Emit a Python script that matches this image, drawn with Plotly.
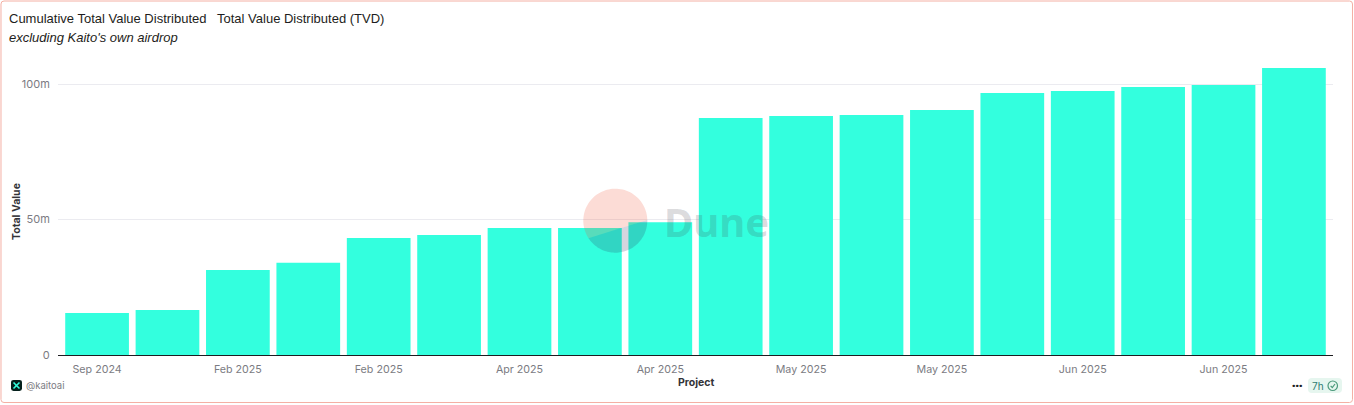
import numpy as np
import plotly.graph_objects as go

# ---- data ----
tick_labels = ["Sep 2024", "Feb 2025", "Feb 2025", "Apr 2025", "Apr 2025",
               "May 2025", "May 2025", "Jun 2025", "Jun 2025"]
total_value = [15.5, 16.6, 31.4, 34.0, 43.2, 44.3, 46.9, 46.9, 49.0,
               87.5, 88.2, 88.6, 90.4, 96.7, 97.4, 98.9, 99.6, 105.9]
y_ticks = [0, 50, 100]
y_tick_labels = ["0", "50m", "100m"]
title_left = "Cumulative Total Value Distributed"
title_right = "Total Value Distributed (TVD)"
subtitle = "excluding Kaito's own airdrop"

# ---- layout constants ----
W, H = 1354, 405
L, R, T, B = 58, 1333, 60, 355
BAR = "#33ffde"
TICK = "#7b7b82"
UI = "IBM Plex Sans, Inter, Noto Sans, sans-serif"
TF = "Inter, Noto Sans, sans-serif"
SANS = "Liberation Sans, Arial, sans-serif"


def px(x):
    return (x - L) / (R - L)


def py(y):
    return (B - y) / (B - T)


def poly(points):
    return "M " + " L ".join(f"{px(x):.5f},{py(y):.5f}" for x, y in points) + " Z"


def round_rect(x0, y0, x1, y1, r):
    k = [
        f"M {px(x0 + r):.5f},{py(y0):.5f}",
        f"L {px(x1 - r):.5f},{py(y0):.5f}",
        f"Q {px(x1):.5f},{py(y0):.5f} {px(x1):.5f},{py(y0 + r):.5f}",
        f"L {px(x1):.5f},{py(y1 - r):.5f}",
        f"Q {px(x1):.5f},{py(y1):.5f} {px(x1 - r):.5f},{py(y1):.5f}",
        f"L {px(x0 + r):.5f},{py(y1):.5f}",
        f"Q {px(x0):.5f},{py(y1):.5f} {px(x0):.5f},{py(y1 - r):.5f}",
        f"L {px(x0):.5f},{py(y0 + r):.5f}",
        f"Q {px(x0):.5f},{py(y0):.5f} {px(x0 + r):.5f},{py(y0):.5f}",
        "Z",
    ]
    return " ".join(k)


def shape_path(path, fill="rgba(0,0,0,0)", line=None, width=0, layer="above"):
    return dict(type="path", xref="paper", yref="paper", path=path, fillcolor=fill,
                line=dict(color=line or "rgba(0,0,0,0)", width=width), layer=layer)


def text(x, y, s, size=12, color="#1d1d20", family=UI, anchor="left", **kw):
    return dict(xref="paper", yref="paper", x=px(x), y=py(y), text=s, showarrow=False,
                xanchor=anchor, yanchor="middle", font=dict(size=size, color=color, family=family),
                **kw)


# watermark logo: a circle split by a diagonal
cx, cy, rad = 615.3, 220.7, 32
a0 = np.arctan2(238.3 - cy, 588.3 - cx)
a1 = np.arctan2(220.0 - cy, 647.0 - cx)
if a0 < 0:
    a0 += 2 * np.pi
lower = np.linspace(a0, a1, 60)
upper = np.linspace(a1, a0 - 2 * np.pi, 60)
chord = [(588.3, 238.3), (618, 229), (647.0, 220.0)]
lower_pts = [(cx + rad * np.cos(t), cy + rad * np.sin(t)) for t in lower] + chord[1:2]
upper_pts = [(cx + rad * np.cos(t), cy + rad * np.sin(t)) for t in upper] + chord[1:2]

shapes = [
    shape_path(round_rect(1, 1, 1352.5, 402.5, 3), line="#f4b0a4", width=1),
    shape_path(poly(upper_pts), fill="rgba(240,80,50,0.2)"),
    shape_path(poly(lower_pts), fill="rgba(43,45,90,0.2)"),
    shape_path(round_rect(1308, 378, 1342, 393, 4), fill="#e6f6ef"),
    dict(type="circle", xref="paper", yref="paper", x0=px(1328), x1=px(1337.5),
         y0=py(390.5), y1=py(381), line=dict(color="#4c9a7c", width=1.2),
         fillcolor="rgba(0,0,0,0)"),
    shape_path(f"M {px(1330.6):.5f},{py(385.8):.5f} L {px(1332.3):.5f},{py(387.5):.5f} "
               f"L {px(1335):.5f},{py(384):.5f}", line="#4c9a7c", width=1.2),
    shape_path(round_rect(11, 380, 22, 391, 2.5), fill="#04201c"),
    shape_path(f"M {px(13.5):.5f},{py(382.5):.5f} L {px(19.5):.5f},{py(388.5):.5f} "
               f"M {px(19.5):.5f},{py(382.5):.5f} L {px(13.5):.5f},{py(388.5):.5f}",
               line="#33ffde", width=1.6),
]

annotations = [
    text(7, 18.5, title_left, size=13, family=SANS),
    text(215, 18.5, title_right, size=13, family=SANS),
    text(7, 37.5, f"<i>{subtitle}</i>", size=13, family=SANS),
    text(662, 221, "<b>Dune</b>", size=40, color="rgba(70,70,80,0.2)",
         family="Noto Sans, sans-serif"),
    text(24, 385.5, "@kaitoai", size=9.5, color="#7b7b82", family=TF),
    text(1297, 385, "<b>•••</b>", size=8, color="#222222", anchor="center"),
    text(1317.5, 385.5, "7h", size=10, color="#2f7d72", anchor="center", family=TF),
    text(696, 382, "<b>Project</b>", size=10.5, color="#333338", anchor="center", family=TF),
    text(16, 212, "<b>Total Value</b>", size=10.5, color="#333338", anchor="center", family=TF,
         textangle=-90),
]

x_index = list(range(len(total_value)))

fig = go.Figure(go.Bar(x=x_index, y=total_value, marker=dict(color=BAR, line=dict(width=0)),
                       name="Total Value"))

fig.update_layout(
    width=W, height=H, autosize=False,
    margin=dict(l=L, r=W - R, t=T, b=H - B, pad=0),
    paper_bgcolor="white", plot_bgcolor="white", showlegend=False, bargap=0.095,
    font=dict(family=TF, size=11, color=TICK),
    xaxis=dict(
        range=[-0.555, 17.555], tickmode="array", tickvals=x_index[::2], ticktext=tick_labels,
        showgrid=False, showline=True, linecolor="#1d1d20", linewidth=1, zeroline=False,
        ticks="outside", ticklen=4, tickcolor="rgba(0,0,0,0)", automargin=False,
        tickangle=0, tickfont=dict(size=10.7, color=TICK, family=TF),
    ),
    yaxis=dict(
        range=[0, 295 / 2.71], tickmode="array", tickvals=y_ticks, ticktext=y_tick_labels,
        showgrid=True, gridcolor="#ebebf0", gridwidth=1, zeroline=False, showline=False,
        ticks="outside", ticklen=5, tickcolor="rgba(0,0,0,0)", automargin=False,
        tickfont=dict(size=11, color=TICK, family=TF),
    ),
    shapes=shapes,
    annotations=annotations,
)

fig.write_html("out.html", config=dict(displayModeBar=False),
               post_script="document.body.style.margin='0';document.body.style.overflow='hidden';")
